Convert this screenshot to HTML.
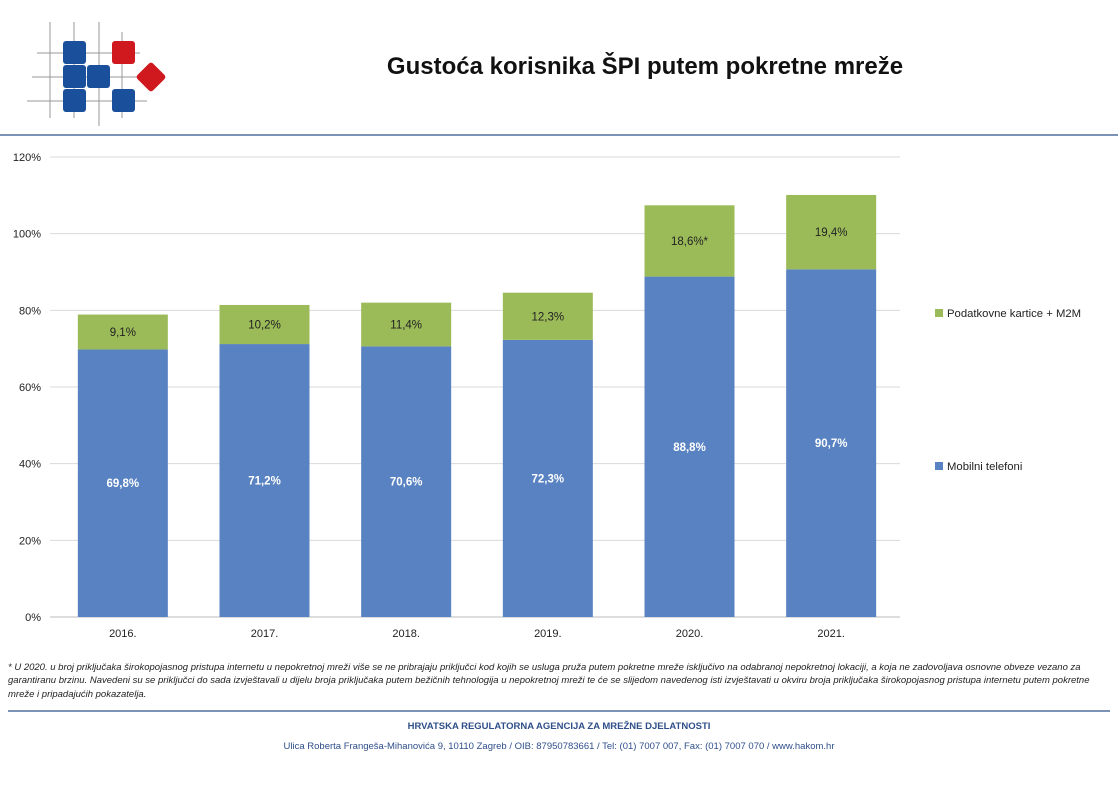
<!DOCTYPE html>
<html><head><meta charset="utf-8"><style>
body{margin:0;width:1118px;height:787px;background:#fff;font-family:"Liberation Sans",sans-serif;overflow:hidden;position:relative}
.abs{position:absolute}
</style></head><body>
<svg class="abs" style="left:0;top:0" width="1118" height="787">
<g stroke="#999" stroke-width="1">
<line x1="50" y1="22" x2="50" y2="118"/><line x1="74" y1="22" x2="74" y2="118"/><line x1="99" y1="22" x2="99" y2="126"/><line x1="122" y1="32" x2="122" y2="118"/>
<line x1="37" y1="53" x2="140" y2="53"/><line x1="32" y1="77" x2="140" y2="77"/><line x1="27" y1="101" x2="147" y2="101"/>
</g>
<g>
<rect x="63" y="41" width="23" height="23" rx="3" fill="#1a4f9c"/>
<rect x="112" y="41" width="23" height="23" rx="3" fill="#d0181f"/>
<rect x="63" y="65" width="23" height="23" rx="3" fill="#1a4f9c"/>
<rect x="87" y="65" width="23" height="23" rx="3" fill="#1a4f9c"/>
<rect x="63" y="89" width="23" height="23" rx="3" fill="#1a4f9c"/>
<rect x="112" y="89" width="23" height="23" rx="3" fill="#1a4f9c"/>
<rect x="140" y="66" width="22" height="22" rx="3" fill="#d0181f" transform="rotate(45 151 77)"/>
</g>
<text x="645" y="74" text-anchor="middle" font-size="24" font-weight="bold" fill="#111">Gustoća korisnika ŠPI putem pokretne mreže</text>
<line x1="0" y1="135" x2="1118" y2="135" stroke="#2f4f8a" stroke-width="1.2"/>
<g id="chart"></g>
<g font-size="11.3" fill="#222">
<rect x="935" y="309" width="8" height="8" fill="#9bbb59"/>
<text x="947" y="317">Podatkovne kartice + M2M</text>
<rect x="935" y="462" width="8" height="8" fill="#5882c1"/>
<text x="947" y="470">Mobilni telefoni</text>
</g>
<g font-size="9.5" font-style="italic" fill="#222">
<text x="8" y="670">* U 2020. u broj priključaka širokopojasnog pristupa internetu u nepokretnoj mreži više se ne pribrajaju priključci kod kojih se usluga pruža putem pokretne mreže isključivo na odabranoj nepokretnoj lokaciji, a koja ne zadovoljava osnovne obveze vezano za</text>
<text x="8" y="683">garantiranu brzinu. Navedeni su se priključci do sada izvještavali u dijelu broja priključaka putem bežičnih tehnologija u nepokretnoj mreži te će se slijedom navedenog isti izvještavati u okviru broja priključaka širokopojasnog pristupa internetu putem pokretne</text>
<text x="8" y="697">mreže i pripadajućih pokazatelja.</text>
</g>
<line x1="8" y1="711" x2="1110" y2="711" stroke="#2f4f8a" stroke-width="1.2"/>
<text x="559" y="729" text-anchor="middle" font-size="9.5" font-weight="bold" fill="#2f4f8a">HRVATSKA REGULATORNA AGENCIJA ZA MREŽNE DJELATNOSTI</text>
<text x="559" y="749" text-anchor="middle" font-size="9.5" fill="#2f4f8a">Ulica Roberta Frangeša-Mihanovića 9, 10110 Zagreb / OIB: 87950783661 / Tel: (01) 7007 007, Fax: (01) 7007 070 / www.hakom.hr</text>
</svg>
<script>
const categories=["2016.","2017.","2018.","2019.","2020.","2021."];
const mobile=[69.8,71.2,70.6,72.3,88.8,90.7];
const m2m=[9.1,10.2,11.4,12.3,18.6,19.4];
const m2mLabels=["9,1%","10,2%","11,4%","12,3%","18,6%*","19,4%"];
const mobileLabels=["69,8%","71,2%","70,6%","72,3%","88,8%","90,7%"];
const yTicks=[0,20,40,60,80,100,120];
const NS="http://www.w3.org/2000/svg";
const g=document.getElementById('chart');
const x0=52,x1=902,y0=617,y1=157,yMax=120;
const y=v=>y0-(v/yMax)*(y0-y1);
const step=(x1-x0)/categories.length, bw=90;
const xc=i=>x0+step*(i+0.5);
function mk(t,a,txt){const e=document.createElementNS(NS,t);for(const k in a)e.setAttribute(k,a[k]);if(txt!=null)e.textContent=txt;g.appendChild(e);return e;}
yTicks.forEach(t=>{
 const l=mk('line',{x1:50,x2:900,y1:y(t),y2:y(t),stroke:t===0?'#bbb':'#d9d9d9','stroke-width':1});
 
 
 const tx=mk('text',{x:41,y:y(t)+4,'text-anchor':'end','font-size':11,fill:'#222'},t+'%');
 
 
});
categories.forEach((c,i)=>{
 const bx=xc(i)-bw/2;
 const r1=mk('rect',{x:bx,y:y(mobile[i]),width:bw,height:y0-y(mobile[i]),fill:'#5882c1'});
 
 
 const top=mobile[i]+m2m[i];
 const r2=mk('rect',{x:bx,y:y(top),width:bw,height:y(mobile[i])-y(top),fill:'#9bbb59'});
 
 
 const l1=mk('text',{x:xc(i),y:y(mobile[i]/2)+4,'text-anchor':'middle','font-size':11.5,'font-weight':'bold',fill:'#fff'},mobileLabels[i]);
 
 
 const l2=mk('text',{x:xc(i),y:y(mobile[i]+m2m[i]/2)+4,'text-anchor':'middle','font-size':11.5,fill:'#222'},m2mLabels[i]);
 
 
 const cl=mk('text',{x:xc(i),y:y0+20,'text-anchor':'middle','font-size':11,fill:'#222'},c);
 
 
});
</script>
</body></html>
